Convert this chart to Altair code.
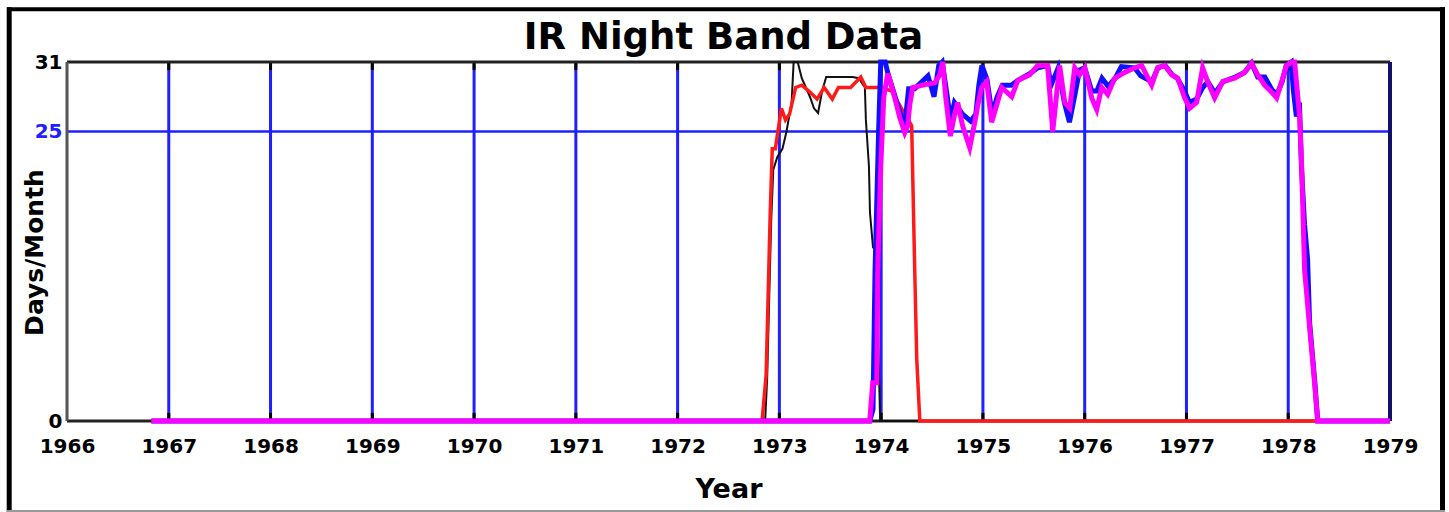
import altair as alt
import pandas as pd

# ---------------- data ----------------
year_ticks = list(range(1966, 1980))
grid_years = list(range(1967, 1979))
y_label_values = [0, 25, 31]

black_years = [1966.83, 1972.86, 1972.88, 1972.90, 1972.92, 1972.94, 1972.98, 1973.03,
               1973.07, 1973.12, 1973.14, 1973.18, 1973.22, 1973.30, 1973.34, 1973.38,
               1973.42, 1973.46, 1973.72, 1973.78, 1973.84, 1973.85, 1973.88, 1973.89,
               1973.92, 1973.95, 1973.99, 1979.0]
black_days = [0, 0, 3.7, 10.6, 17.4, 21.7, 22.8, 23.5,
              25, 27.5, 31, 31, 29.6, 28, 27, 26.6,
              28.5, 29.7, 29.7, 29.6, 28.8, 26, 22, 18,
              15, 14.7, 0, 0]

red_years = [1966.83, 1972.83, 1972.87, 1972.89, 1972.91, 1972.93, 1972.96, 1973.02,
             1973.06, 1973.10, 1973.16, 1973.22, 1973.30, 1973.37, 1973.44, 1973.52,
             1973.58, 1973.70, 1973.80, 1973.85, 1974.0, 1974.1, 1974.2, 1974.3,
             1974.33, 1974.35, 1974.38, 1979.0]
red_days = [0, 0, 4, 11, 18, 23.5, 23.5, 27,
            26, 26.5, 28.8, 29, 28.4, 27.8, 28.8, 27.8,
            28.8, 28.8, 29.7, 28.8, 28.8, 28.5, 27, 25.5,
            13, 5.3, 0, 0]

blue_years = [1966.83, 1973.888, 1973.92, 1973.94, 1973.975, 1973.996, 1974.04, 1974.07,
              1974.12, 1974.19, 1974.232, 1974.27, 1974.33, 1974.46, 1974.52, 1974.566,
              1974.60, 1974.65, 1974.68, 1974.72, 1974.80, 1974.88, 1974.93, 1974.96,
              1974.99, 1975.04, 1975.09, 1975.14, 1975.19, 1975.28, 1975.34, 1975.46,
              1975.54, 1975.636, 1975.67, 1975.74, 1975.80, 1975.85, 1975.90, 1975.95,
              1976.0, 1976.069, 1976.12, 1976.17, 1976.23, 1976.30, 1976.36, 1976.49,
              1976.55, 1976.66, 1976.72, 1976.79, 1976.86, 1976.91, 1976.98, 1977.03,
              1977.10, 1977.16, 1977.21, 1977.28, 1977.36, 1977.48, 1977.57, 1977.64,
              1977.70, 1977.77, 1977.84, 1977.89, 1977.94, 1977.98, 1978.03, 1978.05,
              1978.08, 1978.11, 1978.13, 1978.16, 1978.19, 1978.21, 1978.26, 1978.29,
              1979.0]
blue_days = [0, 0, 1, 13, 25, 31, 31, 29.9,
             28.5, 26.5, 25.5, 28.7, 28.7, 29.8, 28, 30.7,
             31, 28, 26, 27.5, 26.5, 25.9, 26.5, 29,
             30.7, 29.5, 26.5, 28, 29, 29, 29.4, 30,
             30.5, 30.7, 29, 30.5, 27.5, 25.8, 28, 30.3,
             30.5, 28.5, 28.5, 29.6, 28.9, 29.6, 30.6, 30.5,
             29.8, 29.3, 30.5, 30.7, 29.9, 29.6, 28.5, 27.5,
             27.8, 28.8, 29.3, 28.3, 29.3, 29.7, 30.1, 30.9,
             29.7, 29.7, 28.6, 28.2, 29.3, 30.7, 31, 28.6,
             26.3, 27.5, 22, 17, 14, 8.5, 3.5, 0,
             0]

magenta_years = [1966.83, 1973.888, 1973.917, 1973.957, 1973.966, 1973.996, 1974.026, 1974.065,
                 1974.084, 1974.134, 1974.183, 1974.232, 1974.261, 1974.281, 1974.310, 1974.409,
                 1974.527, 1974.576, 1974.605, 1974.634, 1974.68, 1974.72, 1974.752, 1974.80,
                 1974.87, 1974.92, 1974.95, 1974.988, 1975.037, 1975.086, 1975.136, 1975.185,
                 1975.283, 1975.342, 1975.460, 1975.538, 1975.636, 1975.686, 1975.754, 1975.804,
                 1975.853, 1975.902, 1975.951, 1976.0, 1976.069, 1976.118, 1976.167, 1976.226,
                 1976.295, 1976.393, 1976.491, 1976.560, 1976.658, 1976.717, 1976.786, 1976.855,
                 1976.914, 1976.982, 1977.031, 1977.100, 1977.159, 1977.208, 1977.277, 1977.356,
                 1977.473, 1977.572, 1977.640, 1977.699, 1977.768, 1977.837, 1977.886, 1977.935,
                 1977.984, 1978.033, 1978.063, 1978.112, 1978.132, 1978.161, 1978.210, 1978.259,
                 1978.289, 1979.0]
magenta_days = [0, 0, 3.3, 3.3, 13, 22, 28, 30,
                29.5, 27.9, 26.2, 24.9, 25.5, 27.3, 28.8, 29,
                29.2, 29.9, 31, 28, 24.6, 26.4, 27.5, 25.5,
                23.6, 25.8, 27.3, 28.8, 29.3, 25.8, 27.3, 28.8,
                28, 29.4, 29.9, 30.7, 30.7, 25, 30.7, 27.5,
                27, 30.5, 29.9, 30.5, 27.9, 26.9, 28.8, 28.2,
                29.6, 30.1, 30.5, 30.7, 29, 30.5, 30.7, 29.9,
                29.6, 27.9, 27, 27.5, 30.5, 29.3, 27.9, 29.3,
                29.6, 30.1, 30.9, 29.9, 29, 28.4, 27.9, 29.3,
                30.7, 31, 31, 26.3, 21.9, 13, 8.1, 3.3,
                0, 0]

# ---------------- shared encodings ----------------
FONT = "DejaVu Sans"
xscale = alt.Scale(domain=[1966, 1979], nice=False, zero=False)
yscale = alt.Scale(domain=[0, 31], nice=False)

xaxis = alt.Axis(values=year_ticks, format="d", grid=False, domain=False, ticks=False,
                 labelPadding=15, labelFontSize=20, labelFont=FONT, labelFontWeight="bold",
                 labelColor="black", labelFlush=False, labelOverlap=False,
                 titleFont=FONT, titleFontSize=27, titleFontWeight="bold", titleColor="black",
                 titleY=76, titleBaseline="alphabetic")
yaxis = alt.Axis(values=y_label_values, grid=False, domain=False, ticks=False,
                 labelPadding=5, labelFontSize=20, labelFont=FONT, labelFontWeight="bold",
                 labelColor={"expr": "datum.value == 25 ? '#2020ff' : 'black'"},
                 labelFlush=False, labelOverlap=False,
                 titleFont=FONT, titleFontSize=25, titleFontWeight="bold", titleColor="black",
                 titleX=-25, titleY=190, titleAngle=270, titleAlign="center",
                 titleBaseline="alphabetic")

X = alt.X("year:Q", scale=xscale, axis=xaxis, title="Year")
Y = alt.Y("days:Q", scale=yscale, axis=yaxis, title="Days/Month")


def yd(v):
    return alt.YDatum(v, type="quantitative", scale=yscale, axis=yaxis, title="Days/Month")


def xd(v):
    return alt.XDatum(v, type="quantitative", scale=xscale, axis=xaxis, title="Year")


grid_df = pd.DataFrame({"year": grid_years})
one = pd.DataFrame({"k": [0]})

# vertical blue grid lines at each year
vgrid = alt.Chart(grid_df).mark_rule(color="#1f1fff", strokeWidth=3).encode(x=X)
# small black ticks at the bottom and top of grid lines
tick_bot = alt.Chart(grid_df).mark_rule(color="black", strokeWidth=3).encode(
    x=X, y=yd(0), y2=alt.datum(0.7))
tick_top = alt.Chart(grid_df).mark_rule(color="black", strokeWidth=3).encode(
    x=X, y=yd(30.3), y2=alt.datum(31))
# horizontal line at 25
hline = alt.Chart(one).mark_rule(color="#1f1fff", strokeWidth=2.5).encode(y=yd(25))
# plot frame
top_line = alt.Chart(one).mark_rule(color="#222222", strokeWidth=3).encode(y=yd(31))
bottom_line = alt.Chart(one).mark_rule(color="#222222", strokeWidth=3).encode(y=yd(0))
left_line = alt.Chart(one).mark_rule(color="#555555", strokeWidth=3).encode(x=xd(1966))
right_line = alt.Chart(one).mark_rule(color="#10106a", strokeWidth=4).encode(x=xd(1979))


def series(years, days, color, width):
    df = pd.DataFrame({"year": years, "days": days})
    return alt.Chart(df).mark_line(color=color, strokeWidth=width).encode(x=X, y=Y)


black = series(black_years, black_days, "#111111", 2)
red = series(red_years, red_days, "#ff1a1a", 3.5)
blue = series(blue_years, blue_days, "#1010ff", 5)
magenta = series(magenta_years, magenta_days, "#ff00ff", 5)

# outer picture frame
frame_left = alt.Chart(one).mark_rule(color="black", strokeWidth=5).encode(
    x=alt.value(-57.8), y=alt.value(-54.7), y2=alt.value(452))
frame_top = alt.Chart(one).mark_rule(color="black", strokeWidth=4).encode(
    y=alt.value(-52.7), x=alt.value(-60), x2=alt.value(1378))
frame_right = alt.Chart(one).mark_rule(color="black", strokeWidth=5).encode(
    x=alt.value(1375.5), y=alt.value(-54.7), y2=alt.value(452))
frame_bottom = alt.Chart(one).mark_rule(color="#999999", strokeWidth=2).encode(
    y=alt.value(449), x=alt.value(-60), x2=alt.value(1378))

chart = alt.layer(
    vgrid, hline, tick_bot, tick_top, top_line, bottom_line, left_line, right_line,
    black, red, blue, magenta,
    frame_left, frame_top, frame_right, frame_bottom,
).properties(
    width=1323,
    height=359,
    title=alt.TitleParams("IR Night Band Data", font=FONT, fontSize=37, fontWeight="bold",
                          color="black", anchor="middle", baseline="alphabetic", offset=-80.7,
                          frame="group", dx=-5),
    autosize=alt.AutoSizeParams(type="none"),
    padding={"left": 67, "top": 62, "right": 59, "bottom": 91},
    background="white",
).configure_view(stroke=None)

chart.save("out.html", embed_options={"renderer": "svg", "actions": False})
